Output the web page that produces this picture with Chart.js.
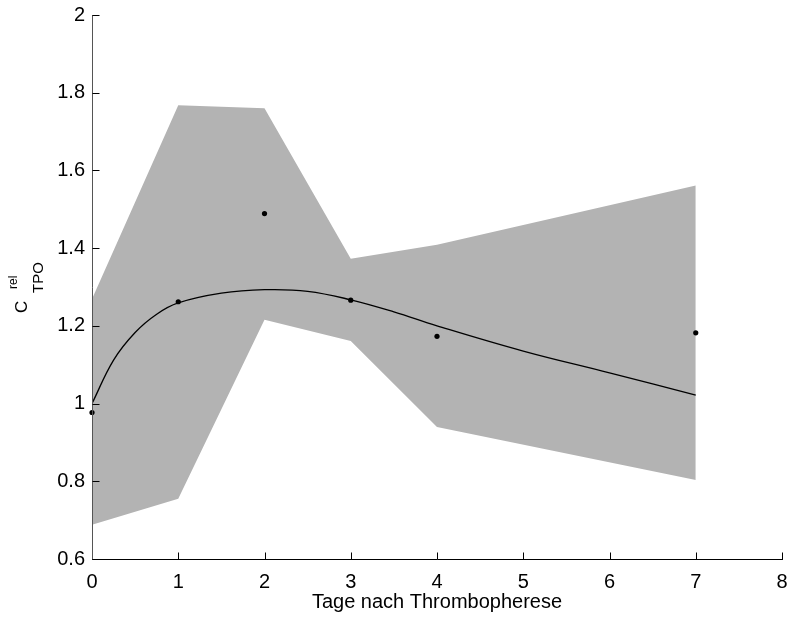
<!DOCTYPE html>
<html lang="de">
<head>
<meta charset="UTF-8">
<title>TPO relativ</title>
<script src="https://cdn.jsdelivr.net/npm/chart.js"></script>
<style>
  body { margin: 0; background: #fff; }
  #wrap { width: 790px; height: 619px; }
</style>
</head>
<body>
<div id="wrap"><canvas id="grafik" width="790" height="619"></canvas></div>
<script>
    // Messtage und Mittelwerte
    const tage = [0, 1, 2, 3, 4, 7];
    const mittel = [0.977, 1.262, 1.489, 1.266, 1.173, 1.182];
    // Streubereich
    const oben = [1.269, 1.768, 1.760, 1.373, 1.409, 1.561];
    const unten = [0.688, 0.755, 1.216, 1.161, 0.940, 0.803];
    // Modellkurve
    const fitTage = [0, 0.25, 0.5, 0.75, 1, 1.5, 2, 2.5, 3, 3.5, 4, 5, 6, 7];
    const fitWerte = [1.00, 1.112, 1.183, 1.230, 1.259, 1.284, 1.293, 1.289, 1.267, 1.236, 1.200, 1.135, 1.079, 1.022];
    // Achsenbeschriftung
    const xTicks = [0, 1, 2, 3, 4, 5, 6, 7, 8];
    const yTicks = [0.6, 0.8, 1, 1.2, 1.4, 1.6, 1.8, 2];

    const schrift = "'Liberation Sans', Arial, Helvetica, sans-serif";
    Chart.defaults.font.family = schrift;
    Chart.defaults.color = '#000';

    function punkte(xs, ys) {
        return xs.map((x, i) => ({ x: x, y: ys[i] }));
    }

    // Achsenlinien, Striche nach innen und Achsentitel
    const achsen = {
        id: 'achsen',
        afterDatasetsDraw(chart) {
            const ctx = chart.ctx;
            const area = chart.chartArea;
            const sx = chart.scales.x;
            const sy = chart.scales.y;
            const unten = Math.round(area.bottom) + 0.5;
            const links = Math.round(area.left) + 0.5;
            ctx.save();
            ctx.lineWidth = 1;

            ctx.strokeStyle = '#000';
            ctx.beginPath();
            ctx.moveTo(area.left, unten);
            ctx.lineTo(area.right + 1, unten);
            for (const t of xTicks) {
                const px = Math.round(sx.getPixelForValue(t)) + 0.5;
                ctx.moveTo(px, unten);
                ctx.lineTo(px, unten - 7);
            }
            ctx.stroke();

            ctx.strokeStyle = '#555';
            ctx.beginPath();
            ctx.moveTo(links, area.top);
            ctx.lineTo(links, unten);
            ctx.stroke();
            ctx.strokeStyle = '#000';
            ctx.beginPath();
            for (const t of yTicks) {
                const py = Math.round(sy.getPixelForValue(t)) + 0.5;
                ctx.moveTo(links, py);
                ctx.lineTo(links + 7, py);
            }
            ctx.stroke();

            // x-Titel
            ctx.fillStyle = '#000';
            ctx.font = '20px ' + schrift;
            ctx.textAlign = 'center';
            ctx.textBaseline = 'alphabetic';
            ctx.fillText('Tage nach Thrombopherese', (area.left + area.right) / 2, 608);

            // y-Titel: C mit hochgestelltem rel und tiefgestelltem TPO
            ctx.translate(27, 313);
            ctx.rotate(-Math.PI / 2);
            ctx.textAlign = 'left';
            ctx.font = '17px ' + schrift;
            ctx.fillText('C', 0, 0);
            ctx.font = '12px ' + schrift;
            ctx.fillText('rel', 24, -10);
            ctx.font = '15px ' + schrift;
            ctx.fillText('TPO', 20, 16);
            ctx.restore();
        }
    };

    new Chart(document.getElementById('grafik'), {
        type: 'line',
        data: {
            datasets: [{
                label: 'Mittelwert',
                data: punkte(tage, mittel),
                showLine: false,
                clip: false,
                pointRadius: 2.6,
                pointBackgroundColor: '#000',
                pointBorderWidth: 0
            }, {
                label: 'Modell',
                data: punkte(fitTage, fitWerte),
                borderColor: '#000',
                borderWidth: 1.3,
                pointRadius: 0,
                tension: 0.4,
                fill: false
            }, {
                label: 'oben',
                data: punkte(tage, oben),
                borderWidth: 0,
                pointRadius: 0,
                backgroundColor: '#b3b3b3',
                tension: 0,
                fill: '+1'
            }, {
                label: 'unten',
                data: punkte(tage, unten),
                borderWidth: 0,
                pointRadius: 0,
                tension: 0,
                fill: false
            }]
        },
        options: {
            responsive: false,
            animation: false,
            events: [],
            layout: { padding: { top: 15, right: 8, left: 0, bottom: 0 } },
            plugins: {
                legend: { display: false },
                tooltip: { enabled: false }
            },
            scales: {
                x: {
                    type: 'linear',
                    min: 0,
                    max: 8,
                    grid: { display: false, drawTicks: false },
                    border: { display: false },
                    afterBuildTicks: s => { s.ticks = xTicks.map(v => ({ value: v })); },
                    afterFit: s => { s.height = 60; s.paddingLeft = 0; s.paddingRight = 0; },
                    ticks: {
                        font: { size: 20 },
                        padding: 11,
                        maxRotation: 0,
                        autoSkip: false,
                        callback: v => String(v)
                    }
                },
                y: {
                    min: 0.6,
                    max: 2,
                    grid: { display: false, drawTicks: false },
                    border: { display: false },
                    afterBuildTicks: s => { s.ticks = yTicks.map(v => ({ value: v })); },
                    afterFit: s => { s.width = 92; s.paddingTop = 0; s.paddingBottom = 0; },
                    ticks: {
                        font: { size: 20 },
                        padding: 7,
                        autoSkip: false,
                        callback: v => String(Math.round(v * 10) / 10)
                    }
                }
            }
        },
        plugins: [achsen]
    });
</script>
</body>
</html>
